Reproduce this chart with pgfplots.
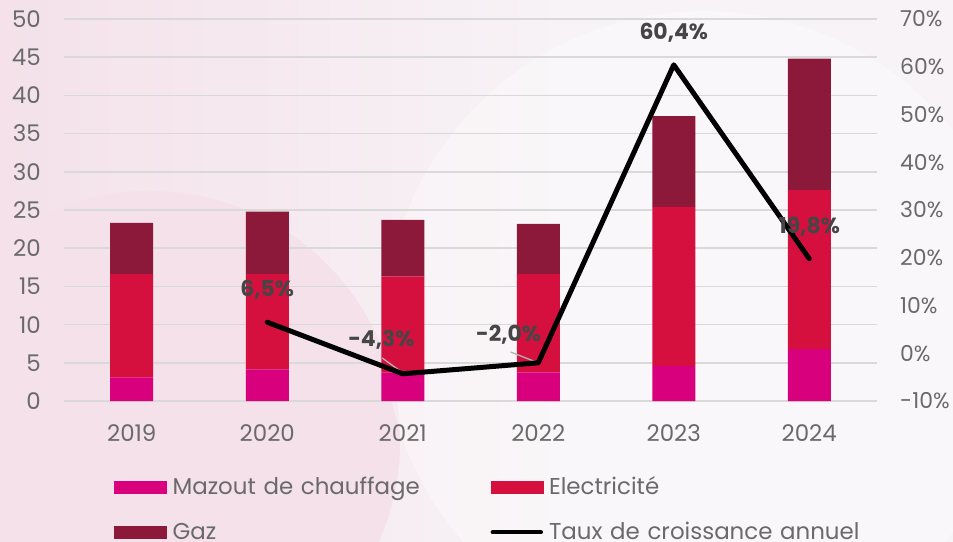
\documentclass[border=0pt]{standalone}
\usepackage{pgfplots}
\pgfplotsset{compat=1.18}
\usepackage{fontspec}
\setmainfont{Poppins}
\definecolor{mazout}{HTML}{D9007E}
\definecolor{elec}{HTML}{D6103E}
\definecolor{gaz}{HTML}{8C183A}
\definecolor{tickc}{HTML}{6A6A6A}
\definecolor{labc}{HTML}{454545}
\definecolor{gridc}{HTML}{D9D9D9}
\definecolor{bgbase}{HTML}{F7F3F6}
\definecolor{bgpink}{HTML}{F4E1E9}
\begin{document}
\begin{tikzpicture}
% background
\fill[bgbase] (-64bp,-141bp) rectangle (889bp,401bp);
\begin{scope}
\clip (-64bp,-141bp) rectangle (889bp,401bp);
\shade[left color=bgpink, right color=bgbase] (-64bp,-141bp) rectangle (500bp,401bp);
\fill[bgpink] (86bp,-40bp) circle (250bp);
\fill[white, opacity=0.35] (640bp,70bp) circle (320bp);
\end{scope}

\begin{axis}[
  at={(0,0)}, anchor=south west,
  scale only axis, width=813bp, height=382bp,
  xmin=-0.5, xmax=5.5, ymin=0, ymax=50,
  ybar stacked, bar width=43bp,
  xtick={0,1,2,3,4,5}, xticklabels={2019,2020,2021,2022,2023,2024},
  ytick={0,5,...,50},
  axis line style={draw=none},
  major tick length=0pt,
  ymajorgrids, grid style={gridc, line width=1.5bp},
  tick label style={font=\fontsize{23}{26}\selectfont, text=tickc},
  xticklabel style={inner sep=0pt, yshift=-23bp},
  yticklabel style={inner sep=0pt, anchor=east, xshift=-23bp},
  /pgf/number format/assume math mode=true,
]
\addplot[fill=mazout, draw=none] coordinates {(0,3.1) (1,4.15) (2,3.7) (3,3.75) (4,4.6) (5,6.8)};
\addplot[fill=elec, draw=none] coordinates {(0,13.5) (1,12.45) (2,12.6) (3,12.85) (4,20.8) (5,20.8)};
\addplot[fill=gaz, draw=none] coordinates {(0,6.7) (1,8.2) (2,7.4) (3,6.6) (4,11.9) (5,17.2)};
\end{axis}

\begin{axis}[
  at={(0,0)}, anchor=south west,
  scale only axis, width=813bp, height=382bp,
  xmin=-0.5, xmax=5.5, ymin=-10, ymax=70,
  axis x line=none, axis y line*=right,
  axis line style={draw=none},
  major tick length=0pt,
  ytick={-10,0,...,70},
  yticklabel={\pgfmathprintnumber{\tick}\%},
  tick label style={font=\fontsize{22}{26}\selectfont, text=tickc},
  yticklabel style={inner sep=0pt, anchor=west, xshift=23bp},
  /pgf/number format/assume math mode=true,
  clip=false,
  legend columns=2,
  legend cell align=left,
  legend style={at={(0.0615,-0.2029)}, anchor=north west, draw=none, fill=none,
    inner sep=0pt, row sep=28bp, column sep=0pt,
    font=\fontsize{23}{26}\selectfont, text=tickc,
    nodes={inner sep=0pt, text height=16bp, text depth=1bp, text width=300bp, align=left},
    /tikz/every odd column/.append style={column sep=6bp},
    /tikz/every even column/.append style={column sep=18bp}},
]
\addlegendimage{legend image code/.code={\fill[mazout] (0bp,-6bp) rectangle (52bp,6bp);}}
\addlegendentry{\mbox{Mazout de chauffage}}
\addlegendimage{legend image code/.code={\fill[elec] (0bp,-6bp) rectangle (52bp,6bp);}}
\addlegendentry{\mbox{Electricité}}
\addlegendimage{legend image code/.code={\fill[gaz] (0bp,-6bp) rectangle (52bp,6bp);}}
\addlegendentry{\mbox{Gaz}}
\draw[gray!60, line width=1.3bp] (axis cs:1.849,-1.0) -- (axis cs:2.0,-4.1);
\draw[gray!60, line width=1.3bp] (axis cs:2.796,0.26) -- (axis cs:3.003,-2.04);
\addplot[black, line width=5bp, line join=round, line cap=round, mark=none,
  legend image code/.code={\draw[black, line width=4.5bp, line cap=round] (2bp,0bp) -- (50bp,0bp);}]
  coordinates {(1,6.5) (2,-4.3) (3,-2.0) (4,60.4) (5,19.8)};
\addlegendentry{\mbox{Taux de croissance annuel}}
\node[font=\fontsize{22}{26}\selectfont\bfseries, text=labc] at (axis cs:1,13.2) {6,5\%};
\node[font=\fontsize{22}{26}\selectfont\bfseries, text=labc] at (axis cs:1.842,2.77) {-4,3\%};
\node[font=\fontsize{22}{26}\selectfont\bfseries, text=labc] at (axis cs:2.781,3.82) {-2,0\%};
\node[font=\fontsize{22}{26}\selectfont\bfseries, text=labc] at (axis cs:4,67.1) {60,4\%};
\node[font=\fontsize{22}{26}\selectfont\bfseries, text=labc] at (axis cs:5,26.5) {19,8\%};
\end{axis}
\pgfresetboundingbox
\path[use as bounding box] (-64bp,-141bp) rectangle (889bp,401bp);
\end{tikzpicture}
\end{document}
